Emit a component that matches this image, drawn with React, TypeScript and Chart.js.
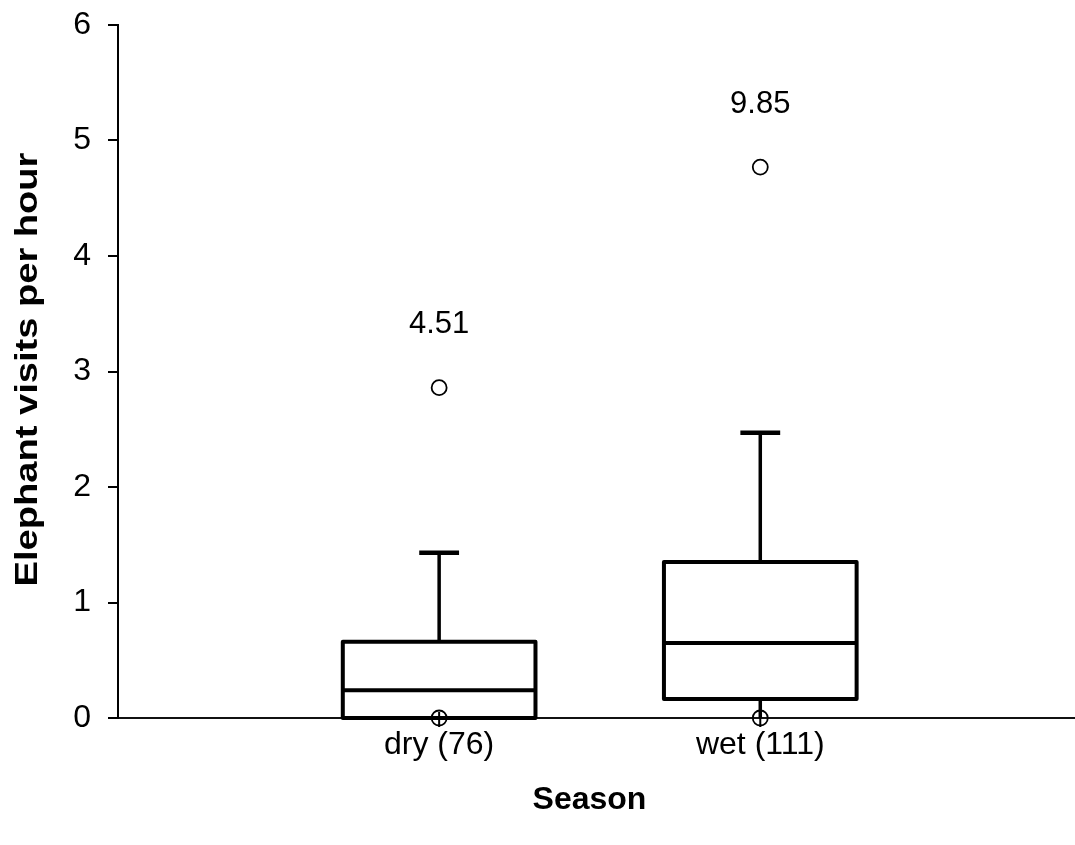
import React, { useEffect, useRef } from 'react';
import { Chart, registerables } from 'chart.js';

Chart.register(...registerables);

const categories = ['dry (76)', 'wet (111)'];
const q1 = [0, 0.165];
const median = [0.24, 0.65];
const q3 = [0.66, 1.35];
const whiskerHigh = [1.43, 2.47];
const whiskerLow = [0, 0];
const outliersHigh = [2.86, 4.77];
const outliersLow = [0, 0];
const outlierLabels = ['4.51', '9.85'];
const yTicks = [0, 1, 2, 3, 4, 5, 6];
const yTitle = 'Elephant visits per hour';
const xTitle = 'Season';

const FONT = "'Liberation Sans', Arial, sans-serif";

const boxPlugin = {
  id: 'boxPlugin',
  afterDatasetsDraw(chart: any) {
    const ctx = chart.ctx;
    const xs = chart.scales.x;
    const ys = chart.scales.y;
    const halfBox = 0.3;
    const halfCap = 0.062;
    ctx.save();
    ctx.strokeStyle = '#000';
    ctx.lineCap = 'butt';
    categories.forEach((_, i) => {
      const xc = xs.getPixelForValue(i + 1);
      const xl = xs.getPixelForValue(i + 1 - halfBox);
      const xr = xs.getPixelForValue(i + 1 + halfBox);
      const yq1 = ys.getPixelForValue(q1[i]);
      const yq3 = ys.getPixelForValue(q3[i]);
      const ym = ys.getPixelForValue(median[i]);
      const yh = ys.getPixelForValue(whiskerHigh[i]);
      const yl = ys.getPixelForValue(whiskerLow[i]);
      ctx.lineWidth = 3.5;
      ctx.beginPath();
      ctx.moveTo(xc, yq3);
      ctx.lineTo(xc, yh);
      ctx.moveTo(xc, yq1);
      ctx.lineTo(xc, yl);
      ctx.stroke();
      ctx.lineWidth = 4.5;
      ctx.beginPath();
      ctx.moveTo(xs.getPixelForValue(i + 1 - halfCap), yh);
      ctx.lineTo(xs.getPixelForValue(i + 1 + halfCap), yh);
      ctx.stroke();
      ctx.lineWidth = 2;
      ctx.beginPath();
      ctx.moveTo(xc, yl - 6);
      ctx.lineTo(xc, yl + 9);
      ctx.stroke();
      ctx.lineWidth = 4;
      ctx.lineJoin = 'round';
      ctx.beginPath();
      ctx.rect(xl, yq3, xr - xl, yq1 - yq3);
      ctx.stroke();
      ctx.beginPath();
      ctx.moveTo(xl, ym);
      ctx.lineTo(xr, ym);
      ctx.stroke();
      const yo = ys.getPixelForValue(outliersHigh[i]);
      ctx.fillStyle = '#000';
      ctx.font = `31px ${FONT}`;
      ctx.textAlign = 'center';
      ctx.textBaseline = 'middle';
      ctx.fillText(outlierLabels[i], xc, yo - 63);
    });
    // axis titles
    ctx.fillStyle = '#000';
    ctx.textAlign = 'center';
    ctx.textBaseline = 'middle';
    ctx.font = `bold 32px ${FONT}`;
    ctx.fillText(xTitle, (xs.left + xs.right) / 2 - 7, 800);
    const cy = (ys.top + ys.bottom) / 2;
    ctx.save();
    ctx.translate(28, cy - 2);
    ctx.rotate(-Math.PI / 2);
    ctx.scale(1.19, 1);
    ctx.fillText(yTitle, 0, 0);
    ctx.restore();
    ctx.restore();
  },
};

export default function App() {
  const ref = useRef<HTMLCanvasElement>(null);
  useEffect(() => {
    if (!ref.current) return;
    const points = [
      ...outliersHigh.map((v, i) => ({ x: i + 1, y: v })),
      ...outliersLow.map((v, i) => ({ x: i + 1, y: v })),
    ];
    const chart = new Chart(ref.current, {
      type: 'scatter',
      data: {
        datasets: [
          {
            data: points,
            pointStyle: 'circle',
            pointRadius: 7.5,
            pointBorderWidth: 1.8,
            pointBorderColor: '#000',
            pointBackgroundColor: 'rgba(255,255,255,0)',
            clip: false,
          },
        ],
      },
      options: {
        animation: false,
        responsive: false,
        devicePixelRatio: 1,
        layout: { autoPadding: false, padding: { top: 25, right: 0, left: 0, bottom: 0 } },
        plugins: { legend: { display: false }, tooltip: { enabled: false }, title: { display: false } },
        scales: {
          x: {
            type: 'linear',
            min: 0,
            max: 2.98,
            afterFit: (s: any) => {
              s.height = 127;
              s.paddingLeft = 0;
              s.paddingRight = 0;
            },
            grid: { display: false, drawTicks: false },
            border: { display: true, color: '#111', width: 2 },
            ticks: {
              stepSize: 1,
              autoSkip: false,
              maxRotation: 0,
              padding: 8,
              color: '#000',
              font: { family: FONT, size: 32 },
              callback: (v: any) => categories[Number(v) - 1] ?? '',
            },
            title: { display: false },
          },
          y: {
            type: 'linear',
            min: yTicks[0],
            max: yTicks[yTicks.length - 1],
            afterFit: (s: any) => {
              s.width = 118;
              s.paddingTop = 0;
              s.paddingBottom = 0;
            },
            afterBuildTicks: (s: any) => {
              s.ticks = yTicks.map((v) => ({ value: v }));
            },
            grid: {
              display: true,
              drawOnChartArea: false,
              drawTicks: true,
              tickLength: 10,
              color: '#000',
              lineWidth: 2,
            },
            border: { display: true, color: '#000', width: 2 },
            ticks: {
              padding: 17,
              color: '#000',
              font: { family: FONT, size: 32 },
              callback: (v: any) => String(v),
            },
            title: { display: false },
          },
        },
      },
      plugins: [boxPlugin],
    });
    return () => chart.destroy();
  }, []);
  return (
    <div style={{ position: 'fixed', left: 0, top: 0, width: 1075, height: 845, background: '#fff' }}>
      <canvas ref={ref} width={1075} height={845} style={{ width: 1075, height: 845 }} />
    </div>
  );
}
